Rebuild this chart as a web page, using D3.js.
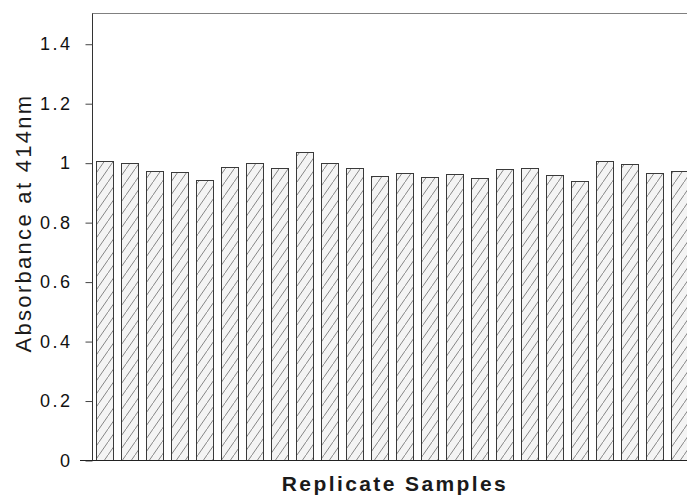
<!DOCTYPE html>
<html>
<head>
<meta charset="utf-8">
<script src="https://cdn.jsdelivr.net/npm/d3@7"></script>
<style>
    body { margin: 0; background: #fff; }
    svg { display: block; font-family: "Liberation Sans", Arial, sans-serif; }
</style>
</head>
<body>
<svg id="canvas" width="687" height="498"></svg>
<script>
// replicate samples 1..24
var samples = d3.range(1, 25).map(function (i) { return "S" + i; });
var absorbance = [1.007, 0.999, 0.973, 0.969, 0.943, 0.986, 0.998, 0.982,
    1.036, 0.998, 0.981, 0.956, 0.964, 0.952, 0.962, 0.948,
    0.979, 0.983, 0.957, 0.938, 1.004, 0.997, 0.965, 0.971];
var yTicks = [0, 0.2, 0.4, 0.6, 0.8, 1, 1.2, 1.4];
var yTickLabels = ["0", "0.2", "0.4", "0.6", "0.8", "1", "1.2", "1.4"];

var svg = d3.select("#canvas");
// note: "top" is a reserved window property, so use plot* names
var plotLeft = 92, plotBottom = 460, plotTop = 14;

var x = d3.scaleBand()
    .domain(samples)
    .range([plotLeft, plotLeft + 600])
    .paddingInner(0.32)
    .paddingOuter(0.16);
var y = d3.scaleLinear().domain([0, 1.5]).range([plotBottom, plotTop]);

// hatch "/" pattern
var defs = svg.append("defs");
var pat = defs.append("pattern")
    .attr("id", "hatch")
    .attr("patternUnits", "userSpaceOnUse")
    .attr("width", 9)
    .attr("height", 13);
pat.append("rect").attr("width", 9).attr("height", 13).attr("fill", "#f4f4f4");
pat.append("line")
    .attr("x1", -1).attr("y1", 14.4).attr("x2", 10).attr("y2", -1.4)
    .attr("stroke", "#707070").attr("stroke-width", 0.85);

// bars
svg.append("g").selectAll("rect")
    .data(absorbance)
    .enter().append("rect")
    .attr("x", function (d, i) { return x(samples[i]) + 0.5; })
    .attr("y", function (d) { return Math.round(y(d)) + 0.5; })
    .attr("width", x.bandwidth())
    .attr("height", function (d) { return plotBottom - Math.round(y(d)); })
    .attr("fill", "url(#hatch)")
    .attr("stroke", "#3a3a3a")
    .attr("stroke-width", 1);

// top frame line
svg.append("line")
    .attr("x1", plotLeft).attr("x2", 687)
    .attr("y1", Math.round(y(1.5)) - 0.5).attr("y2", Math.round(y(1.5)) - 0.5)
    .attr("stroke", "#808080").attr("stroke-width", 1);

// y axis
var yAxis = d3.axisLeft(y)
    .tickValues(yTicks)
    .tickSize(7)
    .tickPadding(13)
    .tickFormat(function (d, i) { return yTickLabels[i]; });
var gy = svg.append("g")
    .attr("transform", "translate(" + (plotLeft + 0.5) + ",0.5)")
    .call(yAxis);
gy.select(".domain").attr("stroke", "#333")
    .attr("d", "M0," + (plotBottom - 0.5) + "V" + (y(1.5) - 1));
gy.selectAll(".tick line").attr("stroke", "#444");
gy.selectAll(".tick text")
    .attr("fill", "#111")
    .style("font-size", "18px")
    .style("letter-spacing", "2.5px");

// baseline
svg.append("line")
    .attr("x1", 80).attr("x2", 687)
    .attr("y1", plotBottom + 0.5).attr("y2", plotBottom + 0.5)
    .attr("stroke", "#222").attr("stroke-width", 1.2);

// titles
svg.append("text")
    .attr("transform", "translate(31,223) rotate(-90)")
    .attr("text-anchor", "middle")
    .attr("fill", "#1a1a1a")
    .style("font-size", "22px")
    .style("letter-spacing", "2.3px")
    .text("Absorbance at 414nm");

svg.append("text")
    .attr("x", 395)
    .attr("y", 491)
    .attr("text-anchor", "middle")
    .attr("fill", "#1a1a1a")
    .style("font-size", "21px")
    .style("font-weight", "bold")
    .style("letter-spacing", "2.4px")
    .text("Replicate Samples");
</script>
</body>
</html>
